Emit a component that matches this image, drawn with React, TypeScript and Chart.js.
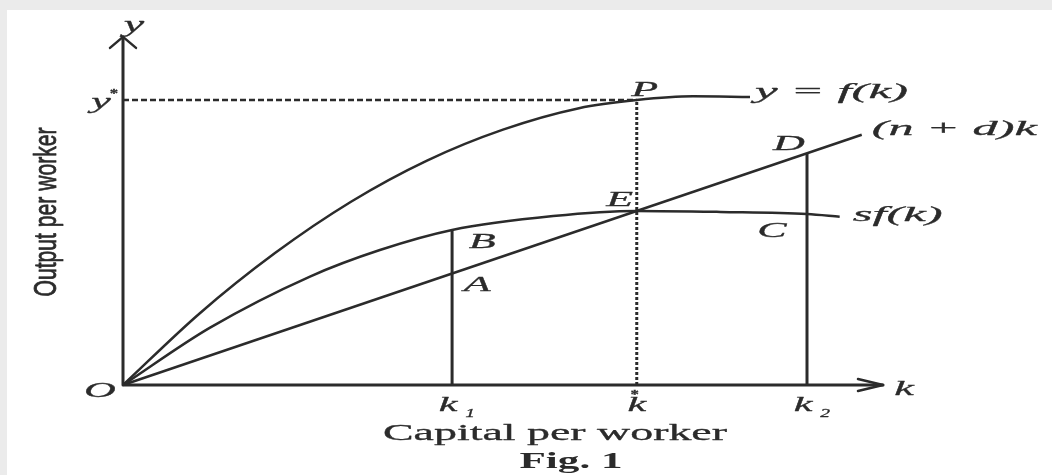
import { useEffect, useRef } from "react";
import { Chart, registerables } from "chart.js";

Chart.register(...registerables);

// Capital per worker (k) and output per worker y = f(k)
const outputK = [0, 10, 20, 30, 40, 50, 60, 67.6, 75, 82.5];
const outputValues = [0, 20.9, 38.8, 53.9, 66.0, 75.1, 81.4, 83.8, 84.9, 84.7];

// Saving per worker sf(k)
const savingK = [0, 11.4, 24.6, 33.8, 43.3, 56.6, 67.6, 78.6, 90.0, 94.3];
const savingValues = [0, 16.8, 31.9, 39.7, 45.6, 49.7, 51.2, 50.9, 50.3, 49.5];

// Break-even investment (n + d)k
const breakEvenK = [0, 97.2];
const breakEvenValues = [0, 73.6];

// Marked capital levels and their tick labels
const k1 = 43.3;
const kStar = 67.6;
const k2 = 90.0;
const yStar = 83.8;
const tickPositions = [k1, kStar, k2];
const tickBase = ["k", "k", "k"];
const tickMarks = ["1", "*", "2"];

// Values at the lettered points
const valueA = 32.7;
const valueB = 45.6;
const valueE = 51.2;
const valueC = 50.3;
const valueD = 68.2;

const INK = "#2b2b2b";
const SERIF = '"Liberation Serif", "DejaVu Serif", serif';
const SX = 2.0;

function stretchText(
  ctx: CanvasRenderingContext2D,
  text: string,
  x: number,
  y: number,
  font: string,
  sx: number,
  align: CanvasTextAlign = "center",
  baseline: CanvasTextBaseline = "middle",
  angle = 0,
  sy = 1,
  weight = 0.3
) {
  ctx.save();
  ctx.translate(x, y);
  if (angle) ctx.rotate(angle);
  ctx.scale(sx, sy);
  ctx.font = font;
  ctx.textAlign = align;
  ctx.textBaseline = baseline;
  ctx.fillStyle = INK;
  ctx.fillText(text, 0, 0);
  if (weight > 0) {
    ctx.strokeStyle = INK;
    ctx.lineWidth = weight;
    ctx.lineJoin = "round";
    ctx.strokeText(text, 0, 0);
  }
  ctx.restore();
}

const paperPlugin = {
  id: "paper",
  beforeDraw(chart: Chart) {
    const { ctx, width, height } = chart;
    ctx.save();
    ctx.fillStyle = "#ebebeb";
    ctx.fillRect(0, 0, width, height);
    ctx.fillStyle = "#ffffff";
    ctx.fillRect(7, 10, width - 7, height - 10);
    ctx.restore();
  },
};

const figurePlugin = {
  id: "figure",
  afterDatasetsDraw(chart: Chart) {
    const { ctx } = chart;
    const xs = chart.scales.x;
    const ys = chart.scales.y;
    const px = (v: number) => xs.getPixelForValue(v);
    const py = (v: number) => ys.getPixelForValue(v);
    const x0 = px(0);
    const y0 = py(0);
    const xEnd = px(100);
    const yEnd = py(102.4);

    // axes with open arrowheads
    ctx.save();
    ctx.strokeStyle = INK;
    ctx.lineWidth = 3;
    ctx.lineCap = "round";
    ctx.lineJoin = "round";
    ctx.beginPath();
    ctx.moveTo(x0, y0);
    ctx.lineTo(x0, yEnd);
    ctx.moveTo(x0, y0);
    ctx.lineTo(xEnd, y0);
    ctx.stroke();
    ctx.lineWidth = 2.5;
    ctx.beginPath();
    ctx.moveTo(x0 - 13, yEnd + 11);
    ctx.lineTo(x0, yEnd);
    ctx.lineTo(x0 + 13, yEnd + 11);
    ctx.moveTo(xEnd - 25, y0 - 6);
    ctx.lineTo(xEnd, y0);
    ctx.lineTo(xEnd - 25, y0 + 6);
    ctx.stroke();
    ctx.restore();

    const italic = (s: number) => `italic ${s}px ${SERIF}`;

    // axis letters
    stretchText(ctx, "y", x0 + 11, yEnd - 11, italic(23), SX);
    stretchText(ctx, "k", xEnd + 21, y0 + 4, italic(22), SX);
    stretchText(ctx, "O", x0 - 23, y0 + 6, italic(22), SX);
    stretchText(ctx, "y", x0 - 22, py(yStar) + 2, italic(22), SX);
    stretchText(ctx, "*", x0 - 9, py(yStar) - 6, `bold 12px ${SERIF}`, 1.4);

    // tick labels under the k axis
    tickPositions.forEach((k, i) => {
      const x = px(k);
      const mark = tickMarks[i];
      if (mark === "*") {
        stretchText(ctx, tickBase[i], x, y0 + 20, italic(21), SX);
        stretchText(ctx, mark, x - 2, y0 + 10, `bold 12px ${SERIF}`, 1.4);
      } else {
        stretchText(ctx, tickBase[i], x - 4, y0 + 20, italic(21), SX);
        stretchText(ctx, mark, x + 18, y0 + 29, italic(13), 1.5);
      }
    });

    // lettered points
    const points: [string, number, number, number, number][] = [
      ["P", kStar, yStar, 8, -10],
      ["E", kStar, valueE, -17, -11],
      ["B", k1, valueB, 30, 12],
      ["A", k1, valueA, 25, 11],
      ["D", k2, valueD, -18, -9],
      ["C", k2, valueC, -35, 17],
    ];
    points.forEach(([t, k, v, dx, dy]) => {
      stretchText(ctx, t, px(k) + dx, py(v) + dy, italic(22), SX);
    });

    // curve names at the end of each curve
    const fEnd = outputK.length - 1;
    const sEnd = savingK.length - 1;
    const lEnd = breakEvenK.length - 1;
    const curveLabel = (t: string, x: number, y: number, w: number) => {
      ctx.save();
      ctx.font = italic(22);
      const m = ctx.measureText(t).width;
      ctx.restore();
      stretchText(ctx, t, x, y, italic(22), w / m, "left");
    };
    curveLabel("y = f(k)", px(outputK[fEnd]) + 5, py(outputValues[fEnd]) - 5, 153);
    curveLabel("(n + d)k", px(breakEvenK[lEnd]) + 10, py(breakEvenValues[lEnd]) - 6, 165);
    curveLabel("sf(k)", px(savingK[sEnd]) + 13, py(savingValues[sEnd]) - 1, 90);

    // axis titles and caption
    ctx.save();
    ctx.font = `23px ${SERIF}`;
    const capW = ctx.measureText("Capital per worker").width;
    ctx.font = `bold 23px ${SERIF}`;
    const figW = ctx.measureText("Fig. 1").width;
    ctx.font = `20px "Liberation Sans", Arial, sans-serif`;
    const outW = ctx.measureText("Output per worker").width;
    ctx.restore();
    stretchText(ctx, "Capital per worker", 555, 440, `23px ${SERIF}`, 344 / capW, "center", "alphabetic");
    stretchText(ctx, "Fig. 1", 571, 468, `bold 23px ${SERIF}`, 103 / figW, "center", "alphabetic", 0, 1, 0);
    stretchText(
      ctx,
      "Output per worker",
      47,
      212,
      `20px "Liberation Sans", Arial, sans-serif`,
      169 / outW,
      "center",
      "middle",
      -Math.PI / 2,
      1.6,
      0.5
    );
  },
};

export default function App() {
  const canvasRef = useRef<HTMLCanvasElement | null>(null);

  useEffect(() => {
    const canvas = canvasRef.current;
    if (!canvas) return;
    const toXY = (xsArr: number[], ysArr: number[]) =>
      xsArr.map((x, i) => ({ x, y: ysArr[i] }));
    const solid = {
      showLine: true,
      pointRadius: 0,
      borderColor: INK,
      borderWidth: 2.5,
      fill: false,
      clip: false as const,
    };
    const chart = new Chart(canvas, {
      type: "scatter",
      data: {
        datasets: [
          {
            ...solid,
            label: "y = f(k)",
            data: toXY(outputK, outputValues),
            cubicInterpolationMode: "monotone",
          },
          {
            ...solid,
            label: "sf(k)",
            data: toXY(savingK, savingValues),
            cubicInterpolationMode: "monotone",
          },
          {
            ...solid,
            label: "(n + d)k",
            data: toXY(breakEvenK, breakEvenValues),
          },
          {
            ...solid,
            label: "k1",
            borderWidth: 3,
            data: [
              { x: k1, y: 0 },
              { x: k1, y: valueB },
            ],
          },
          {
            ...solid,
            label: "k2",
            borderWidth: 3,
            data: [
              { x: k2, y: 0 },
              { x: k2, y: valueD },
            ],
          },
          {
            ...solid,
            label: "k*",
            borderWidth: 3,
            borderDash: [3, 2],
            data: [
              { x: kStar, y: 0 },
              { x: kStar, y: yStar },
            ],
          },
          {
            ...solid,
            label: "y*",
            borderWidth: 2.5,
            borderDash: [6, 3],
            data: [
              { x: 0, y: yStar },
              { x: kStar, y: yStar },
            ],
          },
        ],
      },
      options: {
        responsive: false,
        animation: false,
        events: [],
        layout: { padding: { left: 123, right: 169, top: 45, bottom: 90 } },
        scales: {
          x: { type: "linear", min: 0, max: 100, display: false },
          y: { type: "linear", min: 0, max: 100, display: false },
        },
        plugins: {
          legend: { display: false },
          tooltip: { enabled: false },
        },
      },
      plugins: [paperPlugin, figurePlugin],
    });
    return () => chart.destroy();
  }, []);

  return (
    <div style={{ position: "absolute", left: 0, top: 0, width: 1052, height: 475 }}>
      <canvas ref={canvasRef} width={1052} height={475} style={{ display: "block" }} />
    </div>
  );
}
